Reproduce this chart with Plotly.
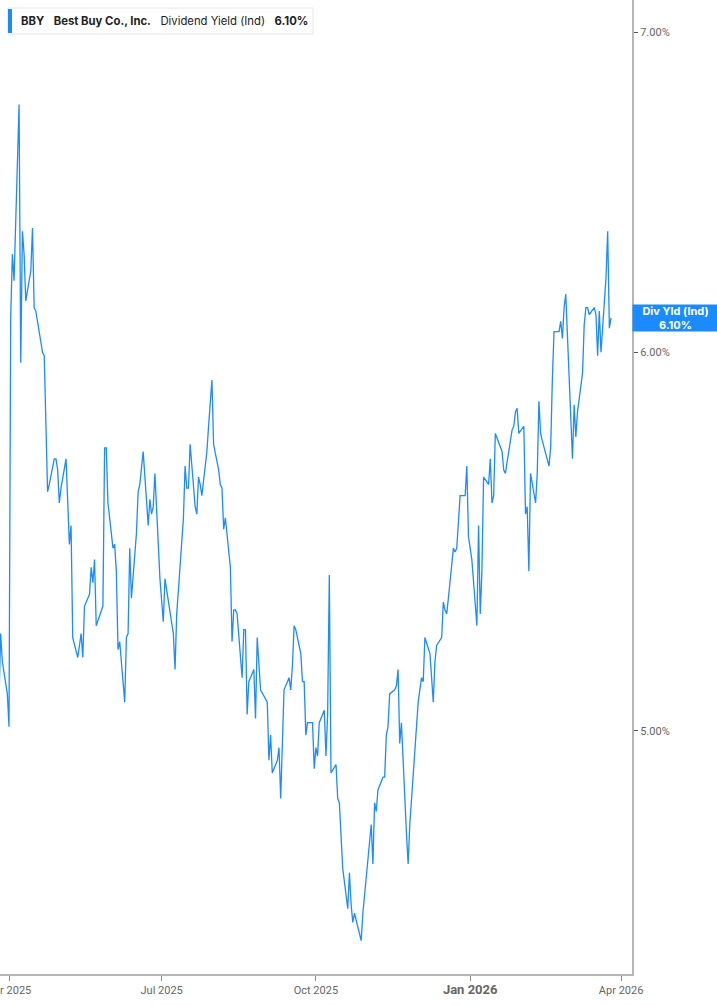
import math
import pandas as pd
import plotly.graph_objects as go

# ---------------- data ----------------
ticker = "BBY"
company = "Best Buy Co., Inc."
metric = "Dividend Yield (Ind)"
last_label = "6.10%"

start_date = "2025-03-26"
market_holidays = [
    "2025-04-18", "2025-05-26", "2025-06-19", "2025-07-04", "2025-09-01",
    "2025-11-27", "2025-12-25", "2026-01-01", "2026-01-19", "2026-02-16",
]

yield_pct = [
    5.07, 5.24, 5.17, 5.09, 5.01, 6.10, 6.29, 6.21, 6.76, 5.97,
    6.36, 6.29, 6.15, 6.24, 6.37, 6.13, 6.12, 6.00, 5.99, 5.75,
    5.61, 5.63, 5.70, 5.70, 5.67, 5.58, 5.62, 5.70, 5.56, 5.47,
    5.52, 5.23, 5.18, 5.21, 5.24, 5.18, 5.31, 5.34, 5.41, 5.37,
    5.43, 5.26, 5.31, 5.73, 5.73, 5.58, 5.46, 5.47, 5.40, 5.20,
    5.22, 5.07, 5.23, 5.24, 5.46, 5.33, 5.50, 5.61, 5.63, 5.72,
    5.52, 5.59, 5.55, 5.57, 5.66, 5.38, 5.31, 5.27, 5.38, 5.26,
    5.24, 5.15, 5.29, 5.35, 5.54, 5.68, 5.62, 5.62, 5.74, 5.57,
    5.55, 5.65, 5.63, 5.60, 5.72, 5.79, 5.86, 5.92, 5.74, 5.67,
    5.63, 5.62, 5.51, 5.54, 5.41, 5.22, 5.30, 5.30, 5.29, 5.13,
    5.25, 5.25, 5.04, 5.12, 5.15, 5.03, 5.23, 5.15, 5.10, 5.07,
    4.93, 4.99, 4.90, 4.93, 4.96, 4.84, 5.00, 5.10, 5.13, 5.10,
    5.16, 5.26, 5.25, 5.19, 5.12, 5.12, 4.99, 5.02, 5.02, 4.91,
    4.96, 4.94, 5.02, 5.05, 4.94, 5.04, 5.39, 4.90, 4.92, 4.84,
    4.83, 4.75, 4.68, 4.59, 4.67, 4.60, 4.56, 4.58, 4.53, 4.52,
    4.58, 4.62, 4.65, 4.78, 4.69, 4.83, 4.81, 4.86, 4.89, 4.89,
    4.99, 5.01, 5.09, 5.10, 5.11, 5.15, 4.97, 5.02, 4.76, 4.69,
    4.78, 4.89, 5.07, 5.10, 5.13, 5.12, 5.23, 5.19, 5.12, 5.07,
    5.17, 5.21, 5.23, 5.32, 5.30, 5.29, 5.33, 5.46, 5.45, 5.46,
    5.60, 5.60, 5.68, 5.49, 5.43, 5.26, 5.52, 5.29, 5.40, 5.65,
    5.63, 5.70, 5.58, 5.60, 5.77, 5.72, 5.67, 5.66, 5.69, 5.78,
    5.79, 5.83, 5.84, 5.77, 5.79, 5.55, 5.57, 5.40, 5.66, 5.58,
    5.66, 5.86, 5.77, 5.75, 5.68, 5.73, 5.92, 6.06, 6.06, 6.09,
    6.04, 6.13, 6.17, 5.84, 5.70, 5.85, 5.76, 5.83, 5.94, 6.08,
    6.13, 6.13, 6.11, 6.13, 6.11, 5.99, 6.12, 6.00, 6.22, 6.36,
    6.07, 6.10,
]

x_tick_dates = ["2025-04-01", "2025-07-01", "2025-10-01", "2026-01-01", "2026-04-01"]
x_tick_text = ["Apr 2025", "Jul 2025", "Oct 2025",
               "<span style='font-size:13px'><b>Jan 2026</b></span>", "Apr 2026"]
y_tick_vals = [5, 6, 7]
y_tick_text = ["5.00%", "6.00%", "7.00%"]

# ---------------- build ----------------
days = pd.bdate_range(start=start_date, end="2026-06-30", freq="C",
                      holidays=market_holidays)[:len(yield_pct)]

BLUE = "#1a8cff"

fig = go.Figure()
fig.add_trace(go.Scatter(
    x=days, y=yield_pct, mode="lines",
    line=dict(color=BLUE, width=1.3),
    hoverinfo="skip", showlegend=False,
))

fig.update_layout(
    width=717, height=1005,
    margin=dict(l=0, r=85, t=0, b=31),
    paper_bgcolor="white", plot_bgcolor="white",
    font=dict(family="Roboto, Arial, sans-serif", color="#666666", size=11),
    showlegend=False,
)

fig.update_xaxes(
    type="date",
    range=["2025-03-26 15:00", "2026-04-07 12:00"],
    tickvals=x_tick_dates, ticktext=x_tick_text,
    showgrid=False, zeroline=False, automargin=False,
    ticklabeloverflow="allow",
    showline=True, linecolor="#b5b5b5", linewidth=2,
    ticks="outside", ticklen=5, tickcolor="#8a8a8a", tickwidth=1,
    tickfont=dict(family="Roboto, Arial, sans-serif", size=11, color="#666666"),
)

fig.update_yaxes(
    type="log", side="right",
    range=[math.log10(4.448), math.log10(7.1087)],
    tickvals=y_tick_vals, ticktext=y_tick_text,
    showgrid=False, zeroline=False, automargin=False,
    showline=True, linecolor="#b5b5b5", linewidth=2,
    ticks="outside", ticklen=4, tickcolor="#555555", tickwidth=1,
    tickfont=dict(family="Roboto, Arial, sans-serif", size=11, color="#666666"),
)

# header box (legend-like)
fig.add_shape(type="rect", xref="paper", yref="paper",
              x0=8/632, x1=313/632, y0=1-34/974, y1=1-8/974,
              line=dict(color="#e6e6e6", width=1), fillcolor="white", layer="above")
fig.add_shape(type="rect", xref="paper", yref="paper",
              x0=8/632, x1=12/632, y0=1-33/974, y1=1-9/974,
              line=dict(width=0), fillcolor=BLUE, layer="above")
fig.add_annotation(
    xref="paper", yref="paper", x=19/632, y=1-21/974,
    xanchor="left", yanchor="middle", showarrow=False,
    text=f"<b>{ticker}</b>&nbsp;&nbsp;&nbsp;<b>{company}</b>&nbsp;&nbsp;&nbsp;{metric}&nbsp;&nbsp;&nbsp;<b>{last_label}</b>",
    font=dict(family="Inter, Roboto, sans-serif", size=11.3, color="#222222"),
)

# last value label on the right axis
fig.add_annotation(
    xref="paper", yref="y", x=1, y=math.log10(yield_pct[-1]),
    xanchor="left", yanchor="middle", showarrow=False,
    text=f"<b>Div Yld (Ind)</b><br><b>{last_label}</b>",
    font=dict(family="Inter, Roboto, sans-serif", size=11, color="white"),
    bgcolor=BLUE, width=85, height=26, borderpad=0, align="center",
)

fig.write_html("out.html", config={"displayModeBar": False},
               post_script="document.body.style.margin='0px';")
